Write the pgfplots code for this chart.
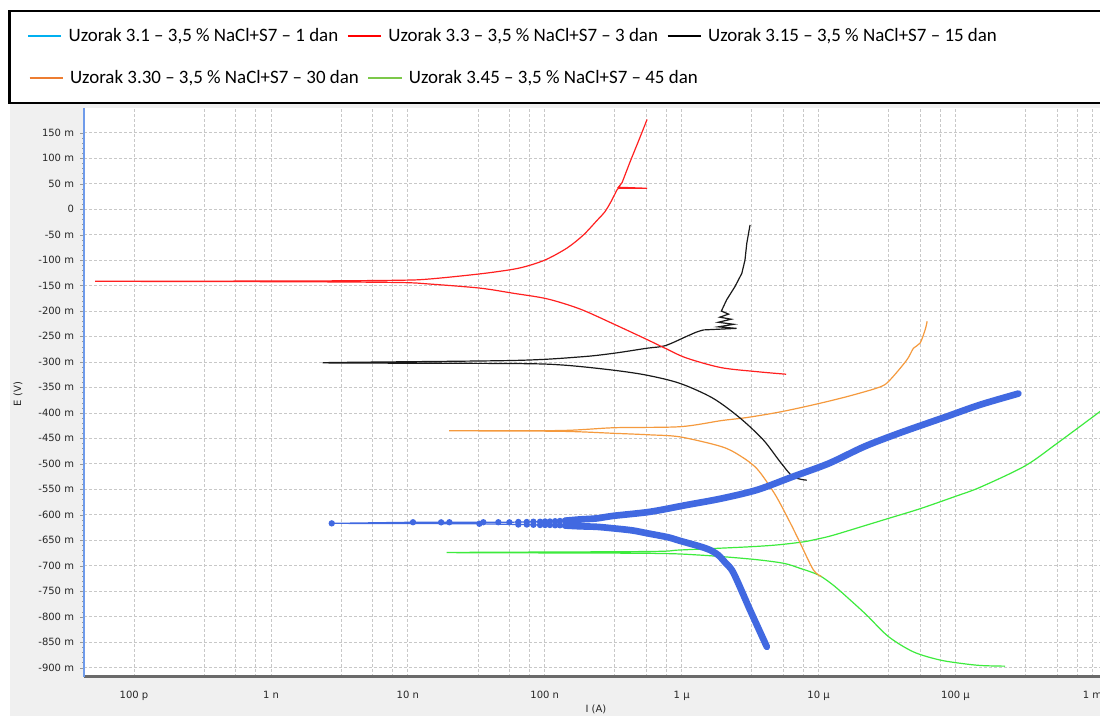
\documentclass[border=0pt]{standalone}
\usepackage{fontspec}
\usepackage{pgfplots}
\pgfplotsset{compat=1.18}
\newfontfamily\legfont{Carlito}
\newfontfamily\tickfont{DejaVu Sans}
\definecolor{cyanL}{HTML}{00B0F0}
\definecolor{redP}{HTML}{FF2020}
\definecolor{blackP}{HTML}{1A1A1A}
\definecolor{orangeL}{HTML}{ED7D31}
\definecolor{orangeP}{HTML}{F59A3E}
\definecolor{greenL}{HTML}{7CC84A}
\definecolor{greenP}{HTML}{3DEB3D}
\definecolor{blueP}{HTML}{4169E1}
\definecolor{gridc}{HTML}{C8C8C8}
\definecolor{axgray}{HTML}{6A6A6A}
\definecolor{axblue}{HTML}{6F9BEA}
\definecolor{bgc}{HTML}{F0F0F0}
\pgfplotsset{
  legrow/.style={
    legend style={draw=none, fill=none, inner sep=0pt, outer sep=0pt,
      font=\legfont\fontsize{14.2}{17}\selectfont,
      /tikz/every odd column/.append style={column sep=2.6pt},
      /tikz/every even column/.append style={column sep=4.4pt}},
    legend cell align=left,
    legend image code/.code={\draw[##1] (0pt,0pt) -- (25pt,0pt);},
  },
  commonax/.style={
    at={(63.225pt,-507.525pt)}, anchor=south west, scale only axis,
    width=761.8pt, height=426.5pt,
  }
}
\begin{document}
\begin{tikzpicture}
\useasboundingbox (0,0) rectangle (825pt,-537pt);
\begin{scope}[x=0.75pt,y=-0.75pt]
\fill[bgc] (10,104) rectangle (1100,716);
\draw[line width=1.8pt] (9.5,11) rectangle (1110,103);
\end{scope}
\begin{axis}[commonax, legrow,
  legend style={at={(axis description cs:-0.0564,1.1266)}, anchor=west},
  legend columns=3,
  xmode=log, xmin=4.33e-11, xmax=1.137e-3, ymin=-917.7, ymax=198.5,
  axis background/.style={fill=white},
  axis x line*=bottom, axis y line*=left,
  x axis line style={color=axgray, line width=2.2pt},
  y axis line style={color=axblue, line width=1.5pt},
  xtick={1e-10,1e-9,1e-8,1e-7,1e-6,1e-5,1e-4,1e-3},
  xticklabels={100 p,1 n,10 n,100 n,1 µ,10 µ,100 µ,1 m},
  minor xtick={3.25e-10,5.53e-10,7.74e-10,3.25e-9,5.53e-9,7.74e-9,3.25e-8,5.53e-8,7.74e-8,3.25e-7,5.53e-7,7.74e-7,3.25e-6,5.53e-6,7.74e-6,3.25e-5,5.53e-5,7.74e-5,3.25e-4,5.53e-4,7.74e-4},
  ytick={-900,-850,...,150},
  yticklabels={-900 m,-850 m,-800 m,-750 m,-700 m,-650 m,-600 m,-550 m,-500 m,-450 m,-400 m,-350 m,-300 m,-250 m,-200 m,-150 m,-100 m,-50 m,0,50 m,100 m,150 m},
  minor y tick num=4,
  xmajorgrids, xminorgrids, ymajorgrids,
  major grid style={gridc, dash pattern=on 2.25pt off 1.5pt, line width=0.6pt},
  minor grid style={gridc, dash pattern=on 2.25pt off 1.5pt, line width=0.6pt},
  tick align=outside, major tick length=3pt, minor tick length=1.6pt,
  ytick style={color=gray!80}, xtick style={draw=none},
  ticklabel style={font=\tickfont\fontsize{7.5}{8.5}\selectfont, text=black!85},
  yticklabel style={anchor=base east, inner sep=0pt, xshift=-4.5pt, yshift=-2.6pt},
  xticklabel style={anchor=base, inner sep=0pt, yshift=-13.4pt},
  xlabel={I (A)}, ylabel={E (V)},
  label style={font=\tickfont\fontsize{7.5}{8.5}\selectfont, text=black!85},
  xlabel style={at={(axis description cs:0.5038,-0.0568)}, anchor=center},
  ylabel style={at={(axis description cs:-0.0653,0.497)}, anchor=center},
]
\addlegendimage{cyanL, line width=1.6pt}
\addlegendentry{Uzorak 3.1 – 3,5 \% NaCl+S7 – 1 dan}
\addlegendimage{red, line width=1.6pt}
\addlegendentry{Uzorak 3.3 – 3,5 \% NaCl+S7 – 3 dan}
\addlegendimage{black, line width=1.6pt}
\addlegendentry{Uzorak 3.15 – 3,5 \% NaCl+S7 – 15 dan}

% 45 dan (green)
\addplot[forget plot, greenP, line width=0.9pt, smooth, tension=0.5] coordinates {
(2.30e-4,-897) (1.60e-4,-896) (1.21e-4,-893) (7.72e-5,-885) (4.93e-5,-869)
(3.24e-5,-839) (2.25e-5,-797) (1.70e-5,-767) (1.28e-5,-738) (9.97e-6,-718)
(7.33e-6,-705) (5.53e-6,-695) (3.25e-6,-687) (1.36e-6,-679) (5.56e-7,-675.5)
(1.92e-8,-674) (5.56e-7,-672) (9.73e-7,-669) (2.99e-6,-663) (5.0e-6,-659)
(7.74e-6,-653) (1.0e-5,-647) (1.28e-5,-640) (2.25e-5,-620) (3.24e-5,-607)
(5.51e-5,-588) (9.93e-5,-564) (1.51e-4,-546) (3.22e-4,-504) (5.50e-4,-460)
(1.14e-3,-397)};

% 30 dan (orange)
\addplot[forget plot, orangeP, line width=0.9pt, smooth, tension=0.5] coordinates {
(1.05e-5,-721) (9.16e-6,-708) (7.33e-6,-655) (6.19e-6,-615) (4.81e-6,-560)
(3.56e-6,-510) (2.67e-6,-484) (1.95e-6,-466) (9.73e-7,-447) (5.88e-7,-443)
(3.22e-7,-440) (1.29e-7,-436) (2.0e-8,-435) (1.29e-7,-434.5) (3.22e-7,-429)
(9.73e-7,-427) (1.95e-6,-415) (2.99e-6,-409) (5.24e-6,-398) (9.16e-6,-384)
(1.61e-5,-368) (2.81e-5,-349) (3.33e-5,-335) (4.41e-5,-296) (4.93e-5,-273)
(5.51e-5,-263) (6.0e-5,-237) (6.21e-5,-220)};

% 15 dan (black): smooth part
\addplot[forget plot, blackP, line width=0.9pt, smooth, tension=0.5] coordinates {
(8.20e-6,-532) (6.5e-6,-525) (5.24e-6,-496) (3.95e-6,-453) (2.67e-6,-410)
(1.69e-6,-371) (9.73e-7,-342) (5.59e-7,-326) (3.16e-7,-316) (1.36e-7,-306)
(5.87e-8,-303) (2.39e-9,-301.5) (5.87e-8,-297) (1.81e-7,-290) (3.16e-7,-283)
(5.56e-7,-273) (7.57e-7,-268) (1.08e-6,-250) (1.29e-6,-241) (1.45e-6,-237)};
% 15 dan (black): noisy anodic part
\addplot[forget plot, blackP, line width=0.9pt] coordinates {
(1.45e-6,-237)
(2.52e-6,-234) (1.85e-6,-231) (2.4e-6,-226) (1.85e-6,-222) (2.3e-6,-216)
(1.9e-6,-212) (2.2e-6,-206) (1.95e-6,-200) (2.13e-6,-178) (2.45e-6,-152)
(2.75e-6,-126) (2.90e-6,-100) (2.99e-6,-67) (3.11e-6,-41) (3.16e-6,-31)};

% 3 dan (red): smooth part
\addplot[forget plot, redP, line width=0.9pt, smooth, tension=0.5] coordinates {
(5.79e-6,-324) (3.56e-6,-319) (1.94e-6,-311) (1.08e-6,-292) (7.57e-7,-273)
(5.59e-7,-256) (3.16e-7,-225) (1.81e-7,-196) (1.04e-7,-176) (5.87e-8,-165)
(3.37e-8,-155) (1.45e-8,-147) (8.77e-9,-144) (1.6e-9,-142.5) (5.19e-11,-141.5)
(1.6e-9,-141) (8.77e-9,-139.5) (1.45e-8,-137) (3.37e-8,-127) (5.87e-8,-118)
(7.82e-8,-110) (1.04e-7,-98) (1.46e-7,-76) (1.91e-7,-51) (2.41e-7,-22)
(2.75e-7,-5) (3.05e-7,15) (3.37e-7,38)};
% 3 dan (red): jump and upper part
\addplot[forget plot, redP, line width=0.9pt] coordinates {
(3.37e-7,38) (3.45e-7,41) (5.59e-7,41) (3.45e-7,43)
(3.67e-7,52) (4.20e-7,93) (4.81e-7,132) (5.59e-7,176)};

% 1 dan (blue), sparse points near Ecorr
\addplot[forget plot, blueP, line width=0.9pt, mark=*, mark size=1.9pt, mark options={fill=blueP, draw=blueP}] coordinates {
(1.81e-7,-622) (1.66e-7,-621.5) (1.53e-7,-621) (1.41e-7,-621) (1.29e-7,-620.5)
(1.19e-7,-620.5) (1.09e-7,-620) (1.005e-7,-620) (9.24e-8,-620) (8.26e-8,-619.5)
(7.39e-8,-619) (6.41e-8,-619) (3.33e-8,-617.5) (2.78e-9,-616.7)
(1.09e-8,-614.5) (1.75e-8,-614.7) (2.01e-8,-614.5) (3.56e-8,-614.5) (4.58e-8,-614.5)
(5.51e-8,-614.7) (6.41e-8,-614) (7.39e-8,-614) (8.26e-8,-613.5) (9.24e-8,-613.5)
(1.005e-7,-613) (1.09e-7,-613) (1.19e-7,-612.5) (1.29e-7,-612) (1.41e-7,-611.5)
(1.53e-7,-611) (1.66e-7,-610.5) (1.81e-7,-610)};
% dense anodic branch
\addplot[forget plot, blueP, line width=5pt, line cap=round, line join=round, smooth, tension=0.5] coordinates {
(1.41e-7,-611.5) (1.81e-7,-609) (2.39e-7,-607) (3.17e-7,-602) (5.88e-7,-594)
(1.07e-6,-581) (1.95e-6,-568) (3.56e-6,-551) (6.5e-6,-525) (1.19e-5,-499)
(2.16e-5,-466) (3.94e-5,-439) (8.63e-5,-407) (1.51e-4,-384)
(2.88e-4,-362)};
% dense cathodic branch
\addplot[forget plot, blueP, line width=5pt, line cap=round, line join=round, smooth, tension=0.5] coordinates {
(1.41e-7,-621) (1.81e-7,-622.5) (2.39e-7,-623.5) (3.17e-7,-626.5) (4.34e-7,-630.5)
(5.56e-7,-636) (7.94e-7,-644) (9.73e-7,-651) (1.36e-6,-662) (1.61e-6,-669)
(1.85e-6,-679) (2.07e-6,-693) (2.39e-6,-714) (3.16e-6,-787) (4.19e-6,-859)};
\end{axis}
\begin{axis}[commonax, legrow, hide axis, xmin=0, xmax=1, ymin=0, ymax=1,
  legend style={at={(axis description cs:-0.0550,1.0527)}, anchor=west},
  legend columns=2]
\addlegendimage{orangeL, line width=1.6pt}
\addlegendentry{Uzorak 3.30 – 3,5 \% NaCl+S7 – 30 dan}
\addlegendimage{greenL, line width=1.6pt}
\addlegendentry{Uzorak 3.45 – 3,5 \% NaCl+S7 – 45 dan}
\end{axis}
\end{tikzpicture}
\end{document}
